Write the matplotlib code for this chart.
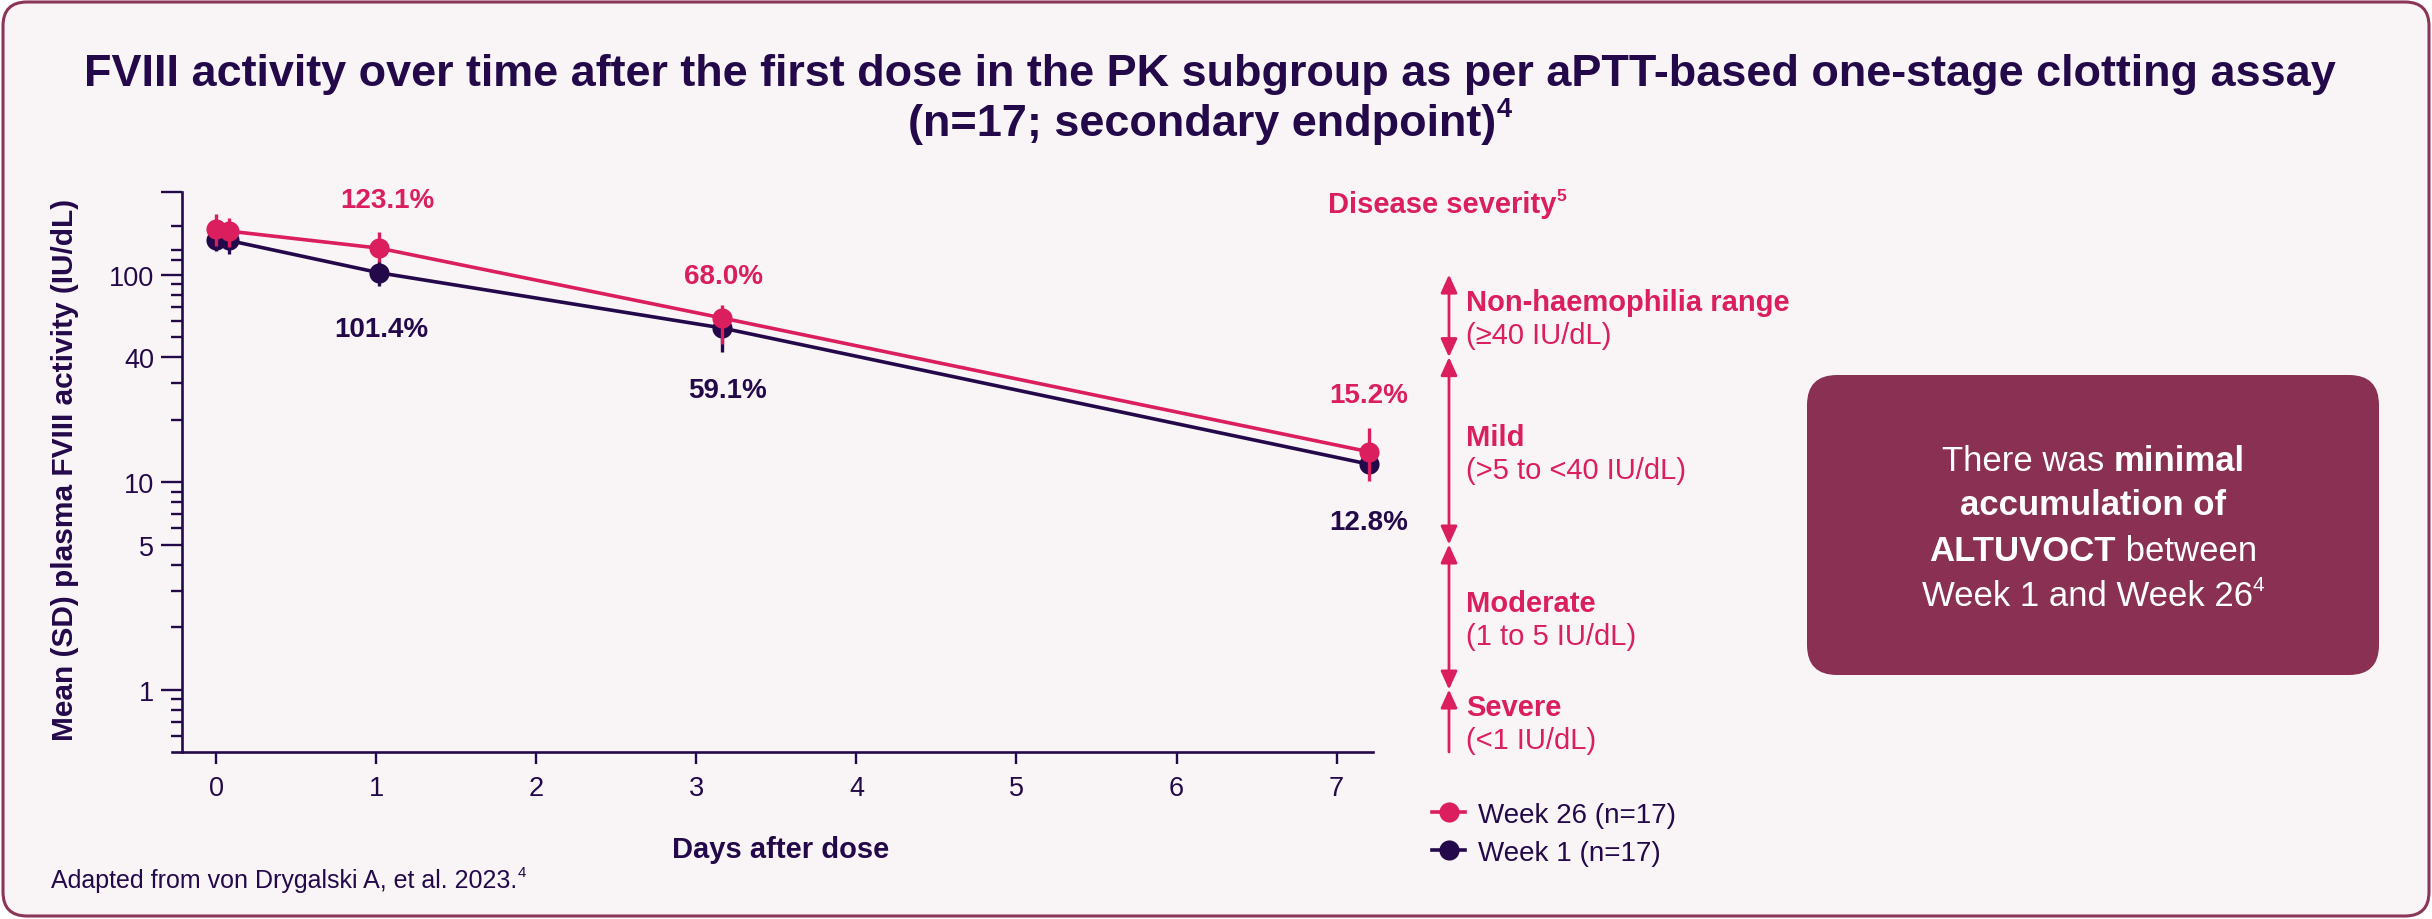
import matplotlib
matplotlib.use("Agg")
import math
import matplotlib.pyplot as plt
import matplotlib.transforms as mtransforms
from matplotlib.patches import FancyBboxPatch
from matplotlib.lines import Line2D
from matplotlib.ticker import NullFormatter

FONT = ['Liberation Sans', 'DejaVu Sans']
plt.rcParams['font.family'] = FONT

W, H, DPI = 2432, 920, 100
PINK = '#DA1E5E'
NAVY = '#23094A'
BOX = '#8A3052'
BORDER = '#8B3558'
BG = '#F9F5F6'

# ---------------- data ----------------
series_names = ['Week 26 (n=17)', 'Week 1 (n=17)']

days_w26 = [0.0, 0.08, 1.02, 3.16, 7.20]
mean_w26 = [166, 162, 134, 61.8, 14.0]
sd_low_w26 = [137, 135.5, 114.7, 46.3, 10.1]
sd_high_w26 = [195, 188, 160, 71.7, 18.2]
labels_w26 = ['', '', '123.1%', '68.0%', '15.2%']

days_w1 = [0.0, 0.08, 1.02, 3.16, 7.20]
mean_w1 = [147.5, 146, 102, 55.3, 12.2]
sd_low_w1 = [130.5, 125, 87.8, 42.2, 11.2]
sd_high_w1 = [165, 167, 116, 68, 15.5]
labels_w1 = ['', '', '101.4%', '59.1%', '12.8%']

x_ticks = [0, 1, 2, 3, 4, 5, 6, 7]
y_major = [1, 5, 10, 40, 100, 250]
y_major_labels = ['1', '5', '10', '40', '100', '']
y_minor = [0.6, 0.7, 0.8, 0.9, 2, 3, 4, 6, 7, 8, 9, 20, 30, 50, 60, 70, 80, 90, 117, 132, 172]

severity_bounds = [100, 40, 5, 1, 0.5]
severity_names = ['Non-haemophilia range', 'Mild', 'Moderate', 'Severe']
severity_ranges = ['(≥40 IU/dL)', '(>5 to <40 IU/dL)', '(1 to 5 IU/dL)', '(<1 IU/dL)']

title_line1 = 'FVIII activity over time after the first dose in the PK subgroup as per aPTT-based one-stage clotting assay'
title_line2 = '(n=17; secondary endpoint)'
x_label = 'Days after dose'
y_label = 'Mean (SD) plasma FVIII activity (IU/dL)'
footnote = 'Adapted from von Drygalski A, et al. 2023.'

# ---------------- figure ----------------
fig = plt.figure(figsize=(W / DPI, H / DPI), dpi=DPI, facecolor='white')
ID = mtransforms.IdentityTransform()

frame = FancyBboxPatch((3, 3), W - 6, H - 6, boxstyle='round,pad=0,rounding_size=24',
                       transform=ID, facecolor=BG, edgecolor=BORDER, linewidth=2.2, zorder=0)
fig.add_artist(frame)

renderer = fig.canvas.get_renderer()


def measure(s, size, weight):
    t1 = fig.text(0, 0, '|' + s + '|', fontsize=size, fontweight=weight, transform=ID)
    t2 = fig.text(0, 0, '||', fontsize=size, fontweight=weight, transform=ID)
    w = t1.get_window_extent(renderer).width - t2.get_window_extent(renderer).width
    t1.remove()
    t2.remove()
    return w


def runs_text(runs, x, y_base, ha, color, size, zorder=5):
    items = []
    for s, weight, sup in runs:
        sz = size * 0.6 if sup else size
        items.append((s, weight, sz, sup, measure(s, sz, weight)))
    total = sum(it[4] for it in items)
    xc = x - total / 2 if ha == 'center' else x
    for s, weight, sz, sup, w in items:
        yb = y_base - (size * 0.42 * DPI / 72 if sup else 0)
        fig.text(xc, H - yb, s, fontsize=sz, fontweight=weight, color=color,
                 ha='left', va='baseline', transform=ID, zorder=zorder)
        xc += w


# ---------------- axes ----------------
ax = fig.add_axes([172 / W, 1 - 753 / H, (1373 - 172) / W, (753 - 193) / H])
ax.set_facecolor('none')
ax.set_yscale('log')
ax.set_xlim(-0.275, 7.227)
ax.set_ylim(0.5, 250)

for s in ['top', 'right']:
    ax.spines[s].set_visible(False)
for s in ['left', 'bottom']:
    ax.spines[s].set_color(NAVY)
    ax.spines[s].set_linewidth(1.9)
ax.spines['left'].set_position(('data', -0.214))

ax.set_xticks(x_ticks)
ax.set_xticklabels([str(v) for v in x_ticks])
ax.set_yticks(y_major)
ax.set_yticklabels(y_major_labels)
ax.set_yticks(y_minor, minor=True)
ax.yaxis.set_minor_formatter(NullFormatter())
ax.tick_params(axis='x', which='major', direction='out', length=8.5, width=1.7,
               color=NAVY, labelcolor=NAVY, labelsize=19.5, pad=8)
ax.tick_params(axis='y', which='major', direction='out', length=15, width=1.7,
               color=NAVY, labelcolor=NAVY, labelsize=19.5, pad=5)
ax.tick_params(axis='y', which='minor', direction='out', length=8, width=1.7, color=NAVY)

series = [
    (days_w1, mean_w1, sd_low_w1, sd_high_w1, NAVY, 3),
    (days_w26, mean_w26, sd_low_w26, sd_high_w26, PINK, 4),
]
for days, mean, lo, hi, color, z in series:
    yerr = [[m - l for m, l in zip(mean, lo)], [h - m for m, h in zip(mean, hi)]]
    cont = ax.errorbar(days, mean, yerr=yerr, fmt='o-', color=color, ms=14.5, mew=0,
                       lw=2.6, elinewidth=2.4, capsize=7.5, capthick=2.7, zorder=z)
    for art in cont.get_children():
        art.set_clip_on(False)

offsets_w26 = [None, None, (8, 48), (2, 42), (0, 57)]
offsets_w1 = [None, None, (2, -56), (6, -62), (0, -58)]
for days, mean, labels, offs, color in [(days_w26, mean_w26, labels_w26, offsets_w26, PINK),
                                          (days_w1, mean_w1, labels_w1, offsets_w1, NAVY)]:
    for d, m, lab, off in zip(days, mean, labels, offs):
        if lab:
            ax.annotate(lab, xy=(d, m), xytext=off, textcoords='offset pixels',
                        ha='center', va='center', fontsize=20, fontweight='bold',
                        color=color, annotation_clip=False)

# ---------------- severity ruler ----------------
trans = mtransforms.blended_transform_factory(ax.transAxes, ax.transData)
xr = (1449 - 172) / 1201
xl = (1466 - 172) / 1201
for i in range(4):
    hi_, lo_ = severity_bounds[i], severity_bounds[i + 1]
    style = '<|-|>' if i < 3 else '-|>'
    ax.annotate('', xy=(xr, hi_), xytext=(xr, lo_), xycoords=trans, textcoords=trans,
                arrowprops=dict(arrowstyle=style + ',head_length=0.55,head_width=0.25',
                                color=PINK, lw=2, shrinkA=0, shrinkB=0, mutation_scale=20),
                annotation_clip=False)
    gm = math.sqrt(hi_ * lo_)
    ax.annotate(severity_names[i], xy=(xl, gm), xycoords=trans, xytext=(0, 14),
                textcoords='offset pixels', ha='left', va='center', fontsize=21,
                fontweight='bold', color=PINK, annotation_clip=False)
    ax.annotate(severity_ranges[i], xy=(xl, gm), xycoords=trans, xytext=(0, -19),
                textcoords='offset pixels', ha='left', va='center', fontsize=21,
                color=PINK, annotation_clip=False)

runs_text([('Disease severity', 'bold', False), ('5', 'bold', True)], 1328, 213, 'left', PINK, 21)

# ---------------- callout box ----------------
box = FancyBboxPatch((1807, H - 676), 572, 300, boxstyle='round,pad=0,rounding_size=30',
                     transform=ID, facecolor=BOX, edgecolor='none', zorder=2)
fig.add_artist(box)
box_lines = [
    [('There was ', 'normal', False), ('minimal', 'bold', False)],
    [('accumulation of', 'bold', False)],
    [('ALTUVOCT', 'bold', False), (' between', 'normal', False)],
    [('Week 1 and Week 26', 'normal', False), ('4', 'normal', True)],
]
for line, yb in zip(box_lines, [471, 515, 561, 606]):
    runs_text(line, 2093, yb, 'center', 'white', 25)

# ---------------- legend ----------------
handles = [Line2D([], [], color=PINK, marker='o', ms=14.5, mew=0, lw=2.6),
           Line2D([], [], color=NAVY, marker='o', ms=14.5, mew=0, lw=2.6)]
leg = fig.legend(handles, series_names, loc='upper left', bbox_to_anchor=(1432 / W, 1 - 803 / H),
                 frameon=False, fontsize=20, handlelength=1.2, handletextpad=0.45,
                 labelspacing=0.42, borderpad=0, borderaxespad=0)
for t in leg.get_texts():
    t.set_color(NAVY)

# ---------------- titles / labels ----------------
runs_text([(title_line1, 'bold', False)], 1210, 86, 'center', NAVY, 32.4)
runs_text([(title_line2, 'bold', False), ('4', 'bold', True)], 1210, 136, 'center', NAVY, 32.4)

fig.text(781 / W, 1 - 850 / H, x_label, ha='center', va='center', fontsize=21,
         fontweight='bold', color=NAVY)
fig.text(65 / W, 1 - 470 / H, y_label, ha='center', va='center', rotation=90,
         fontsize=21.5, fontweight='bold', color=NAVY)

runs_text([(footnote, 'normal', False), ('4', 'normal', True)], 51, 888, 'left', NAVY, 18)

fig.savefig('out.png', dpi=DPI, facecolor=fig.get_facecolor())
